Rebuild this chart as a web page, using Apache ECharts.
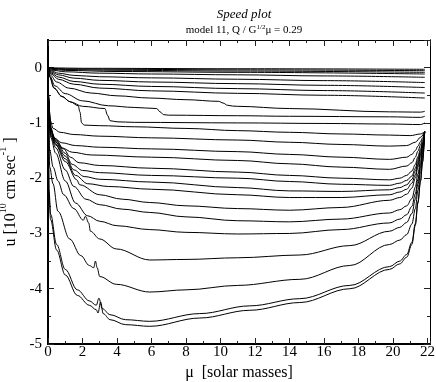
<!DOCTYPE html>
<html>
<head>
<meta charset="utf-8">
<script src="https://cdn.jsdelivr.net/npm/echarts@6/dist/echarts.min.js"></script>
<style>
  html, body { margin: 0; padding: 0; background: #fff; }
  #chart { width: 436px; height: 382px; }
</style>
</head>
<body>
<div id="chart"></div>
<script>
// tick labels
const xTicks = [0, 2, 4, 6, 8, 10, 12, 14, 16, 18, 20, 22]
const yTicks = [-5, -4, -3, -2, -1, 0]

// speed curves, [mu, u], from top to bottom
const u01 = [[0, 0], [0.3, -0.005], [2, -0.012], [11, -0.02], [21.85, -0.03]]
const u02 = [[0, 0], [0.2, -0.012], [1, -0.022], [4, -0.03], [11, -0.04], [21.85, -0.055]]
const u03 = [[0, 0], [0.2, -0.02], [1, -0.035], [4, -0.048], [11, -0.062], [21.85, -0.085]]
const u04 = [[0, 0], [0.2, -0.03], [1, -0.05], [4, -0.07], [11, -0.085], [21.85, -0.115]]
const u05 = [[0, 0], [0.2, -0.045], [1, -0.075], [3, -0.1], [6, -0.115], [11, -0.13], [16, -0.15], [21.85, -0.175]]
const u06 = [[0, 0], [0.2, -0.06], [0.6, -0.1], [1.5, -0.14], [3, -0.165], [6, -0.185], [11, -0.21], [16, -0.235], [21.85, -0.27]]
const u07 = [[0, 0], [0.2, -0.08], [0.6, -0.13], [1.5, -0.19], [3, -0.23], [6, -0.26], [11, -0.29], [16, -0.32], [21.85, -0.36]]
const u08 = [[0, 0], [0.2, -0.1], [0.6, -0.17], [1.5, -0.25], [3, -0.3], [6, -0.34], [11, -0.38], [16, -0.415], [21.85, -0.46]]
const u09 = [[0, 0], [0.2, -0.12], [0.6, -0.21], [1.5, -0.3], [3, -0.37], [6, -0.42], [11, -0.465], [16, -0.5], [21.85, -0.55]]
const s04 = [[0, 0], [0.15, -0.14], [0.5, -0.26], [1.2, -0.37], [2.5, -0.46], [4, -0.51], [5.9, -0.55], [8, -0.58], [9.9, -0.61], [10.15, -0.64], [10.4, -0.68], [10.7, -0.695], [11, -0.7], [14, -0.74], [19.8, -0.8], [21.6, -0.805], [21.85, -0.79]]
const s03 = [[0, 0], [0.12, -0.16], [0.4, -0.33], [1, -0.47], [2, -0.6], [3.5, -0.69], [5, -0.72], [6.3, -0.74], [6.5, -0.8], [6.7, -0.85], [7, -0.86], [11, -0.87], [14, -0.88], [19.8, -0.89], [21.6, -0.9], [21.85, -0.88]]
const s02 = [[0, 0], [0.1, -0.17], [0.35, -0.37], [0.8, -0.52], [1.3, -0.62], [2, -0.7], [3.3, -0.74], [3.45, -0.86], [3.6, -0.96], [4, -0.98], [5, -0.99], [11, -1.0], [16, -1.01], [19.8, -1.02], [21.6, -1.03], [21.85, -1.0]]
const s01 = [[0, 0], [0.1, -0.17], [0.35, -0.37], [0.8, -0.52], [1.3, -0.62], [1.75, -0.69], [1.85, -0.8], [1.95, -1.0], [2.1, -1.04], [3, -1.05], [5, -1.07], [8, -1.1], [11, -1.14], [14, -1.17], [17, -1.2], [19.8, -1.22], [21, -1.23], [21.6, -1.2], [21.84, -1.16]]
const l02 = [[0, 0], [0.04, -0.5], [0.12, -0.95], [0.3, -1.1], [0.7, -1.17], [1.5, -1.21], [3, -1.24], [6, -1.27], [11, -1.31], [14, -1.35], [17, -1.39], [19.8, -1.42], [20.8, -1.41], [21.3, -1.35], [21.6, -1.26], [21.84, -1.16]]
const l03 = [[0, 0], [0.04, -0.55], [0.14, -1.05], [0.35, -1.27], [0.8, -1.36], [1.6, -1.41], [3, -1.44], [6, -1.47], [11, -1.52], [14, -1.57], [17, -1.62], [19.8, -1.66], [20.8, -1.62], [21.1, -1.57], [21.3, -1.5], [21.45, -1.42], [21.6, -1.34], [21.72, -1.27], [21.84, -1.16]]
const l04 = [[0, 0], [0.04, -0.6], [0.15, -1.1], [0.4, -1.33], [0.8, -1.45], [1.4, -1.53], [2.5, -1.58], [6, -1.62], [11, -1.68], [14, -1.74], [17, -1.8], [19.8, -1.84], [20.8, -1.78], [21.1, -1.72], [21.3, -1.62], [21.45, -1.51], [21.6, -1.4], [21.72, -1.31], [21.84, -1.16]]
const l05 = [[0, 0], [0.04, -0.6], [0.15, -1.12], [0.45, -1.3], [0.9, -1.47], [1.3, -1.62], [1.8, -1.72], [3, -1.77], [6, -1.82], [11, -1.89], [14, -1.95], [17, -2.0], [19.8, -2.03], [20.4, -2.0], [20.8, -1.95], [21.1, -1.87], [21.3, -1.75], [21.45, -1.61], [21.6, -1.47], [21.72, -1.35], [21.84, -1.16]]
const l06 = [[0, 0], [0.04, -0.62], [0.15, -1.14], [0.45, -1.32], [1, -1.55], [1.4, -1.75], [2, -1.86], [3, -1.9], [6, -1.95], [11, -2.0], [14, -2.06], [17, -2.11], [19.8, -2.13], [20.4, -2.09], [20.8, -2.04], [21.1, -1.96], [21.3, -1.82], [21.45, -1.66], [21.6, -1.51], [21.72, -1.37], [21.84, -1.16]]
const l07 = [[0, 0], [0.04, -0.64], [0.15, -1.16], [0.45, -1.35], [1, -1.6], [1.5, -1.85], [2.1, -1.97], [3, -2.02], [6, -2.07], [11, -2.17], [14, -2.23], [17, -2.24], [19.8, -2.21], [20.4, -2.17], [20.8, -2.12], [21.1, -2.02], [21.3, -1.87], [21.45, -1.71], [21.6, -1.54], [21.72, -1.39], [21.84, -1.16]]
const l08 = [[0, 0], [0.04, -0.66], [0.15, -1.18], [0.45, -1.38], [1, -1.65], [1.6, -1.95], [2.3, -2.1], [3.5, -2.15], [6, -2.2], [11, -2.3], [14, -2.35], [17, -2.35], [19.8, -2.3], [20.4, -2.25], [20.8, -2.2], [21.1, -2.09], [21.3, -1.94], [21.45, -1.75], [21.6, -1.57], [21.72, -1.41], [21.84, -1.16]]
const l09 = [[0, 0], [0.04, -0.68], [0.15, -1.2], [0.45, -1.4], [1, -1.7], [1.67, -2.03], [1.84, -2.12], [3, -2.3], [4.3, -2.38], [5.9, -2.44], [8, -2.5], [11, -2.55], [14, -2.58], [17, -2.53], [19.8, -2.4], [20.4, -2.35], [20.8, -2.29], [21.1, -2.18], [21.3, -2.0], [21.45, -1.8], [21.6, -1.61], [21.72, -1.43], [21.84, -1.16]]
const l10 = [[0, 0], [0.04, -0.7], [0.15, -1.22], [0.45, -1.45], [1, -1.85], [1.5, -2.15], [2.2, -2.38], [3, -2.48], [4.3, -2.56], [5.9, -2.62], [8, -2.7], [11, -2.77], [14, -2.79], [17, -2.74], [19.8, -2.63], [20.4, -2.57], [20.8, -2.5], [21.1, -2.37], [21.3, -2.16], [21.45, -1.92], [21.6, -1.69], [21.72, -1.48], [21.84, -1.16]]
const l11 = [[0, 0], [0.04, -0.75], [0.15, -1.26], [0.45, -1.55], [1, -2.05], [1.6, -2.45], [2.3, -2.68], [3, -2.78], [4, -2.86], [5.9, -2.93], [8, -2.98], [11, -3.01], [14, -3.0], [17, -2.93], [19.8, -2.81], [20.4, -2.74], [20.8, -2.66], [21.1, -2.51], [21.3, -2.28], [21.45, -2.02], [21.6, -1.75], [21.72, -1.52], [21.84, -1.16]]
const l12 = [[0, 0], [0.03, -0.9], [0.1, -1.5], [0.3, -1.8], [0.58, -2.05], [0.91, -2.3], [1.5, -2.55], [2.05, -2.76], [2.17, -2.69], [2.36, -2.81], [2.46, -2.96], [3, -3.1], [3.96, -3.28], [5.9, -3.48], [8, -3.47], [11, -3.44], [14.6, -3.39], [17.5, -3.22], [19.8, -2.96], [20.4, -2.89], [20.8, -2.8], [21.1, -2.64], [21.3, -2.38], [21.45, -2.1], [21.6, -1.81], [21.72, -1.56], [21.84, -1.16]]
const l13 = [[0, 0], [0.03, -1.0], [0.1, -1.8], [0.29, -2.1], [0.58, -2.6], [1.26, -3.1], [1.9, -3.4], [2.4, -3.58], [2.65, -3.62], [2.75, -3.5], [2.85, -3.62], [3.0, -3.78], [3.96, -3.92], [5.9, -4.06], [8, -4.02], [11, -3.94], [14.6, -3.83], [17.5, -3.58], [19.8, -3.2], [20.4, -3.12], [20.8, -3.02], [21.1, -2.83], [21.3, -2.55], [21.45, -2.22], [21.6, -1.89], [21.72, -1.61], [21.84, -1.16]]
const b02 = [[0, 0], [0.02, -1.1], [0.06, -2.2], [0.15, -2.65], [0.5, -3.2], [1, -3.65], [1.7, -4.02], [2.4, -4.22], [2.8, -4.3], [2.95, -4.17], [3.15, -4.36], [3.6, -4.47], [4.5, -4.56], [5.9, -4.59], [8.8, -4.45], [11.7, -4.31], [14.6, -4.18], [17.5, -3.94], [19.8, -3.6], [20.4, -3.5], [20.8, -3.38], [21.1, -3.16], [21.3, -2.82], [21.45, -2.43], [21.6, -2.04], [21.72, -1.7], [21.84, -1.16]]
const b01 = [[0, 0], [0.02, -1.2], [0.06, -2.3], [0.15, -2.75], [0.5, -3.3], [1, -3.75], [1.7, -4.12], [2.4, -4.3], [2.8, -4.38], [2.9, -4.44], [3.05, -4.24], [3.2, -4.45], [3.6, -4.56], [4.5, -4.65], [5.9, -4.68], [8.8, -4.53], [11.7, -4.39], [14.6, -4.25], [17.5, -4.0], [19.8, -3.65], [20.4, -3.55], [20.8, -3.43], [21.1, -3.2], [21.3, -2.85], [21.45, -2.45], [21.6, -2.06], [21.72, -1.71], [21.84, -1.16]]

const curves = [u01, u02, u03, u04, u05, u06, u07, u08, u09, s04, s03, s02, s01,
  l02, l03, l04, l05, l06, l07, l08, l09, l10, l11, l12, l13, b02, b01]

const serif = 'Liberation Serif'
const chart = echarts.init(document.getElementById('chart'), null, { renderer: 'canvas' })

// one axis for long ticks and labels, one for the short ticks in between
function xAxisDef(position, step, tickLen, withLabels, lineWidth) {
  return {
    type: 'value', position: position, min: 0, max: 22.15, interval: step,
    axisLine: { show: true, onZero: false, lineStyle: { color: '#000', width: lineWidth } },
    axisTick: { show: true, inside: true, length: tickLen, lineStyle: { color: '#222', width: 1 } },
    axisLabel: {
      show: withLabels, showMaxLabel: false, margin: 1,
      color: '#000', fontFamily: serif, fontSize: 15,
      formatter: (v) => (xTicks.indexOf(v) >= 0 ? String(v) : ''),
    },
    splitLine: { show: false },
    name: withLabels ? 'μ  [solar masses]' : '',
    nameLocation: 'middle', nameGap: 20,
    nameTextStyle: { color: '#000', fontFamily: serif, fontSize: 16 },
  }
}

function yAxisDef(position, step, tickLen, withLabels, lineWidth) {
  return {
    type: 'value', position: position, min: -5, max: 0.5, interval: step,
    axisLine: { show: true, onZero: false, lineStyle: { color: '#000', width: lineWidth } },
    axisTick: { show: true, inside: true, length: tickLen, lineStyle: { color: '#222', width: 1 } },
    axisLabel: {
      show: withLabels, showMaxLabel: false, margin: 6,
      color: '#000', fontFamily: serif, fontSize: 15,
      formatter: (v) => (yTicks.indexOf(v) >= 0 ? String(v) : ''),
    },
    splitLine: { show: false },
    name: withLabels ? '{t|u [10}{s|10}{t| cm sec}{s|-1}{t| ]}' : '',
    nameLocation: 'middle', nameRotate: 90, nameGap: 26,
    nameTextStyle: {
      color: '#000', fontFamily: serif, fontSize: 16,
      rich: {
        t: { fontFamily: serif, fontSize: 16, lineHeight: 20, verticalAlign: 'bottom' },
        s: { fontFamily: serif, fontSize: 10, lineHeight: 20, verticalAlign: 'top' },
      },
    },
  }
}

const option = {
  animation: false,
  backgroundColor: '#fff',
  title: {
    text: 'Speed plot',
    subtext: 'model 11, Q / G{s|1/2}μ = 0.29',
    left: 239, top: 3, textAlign: 'center', itemGap: 3,
    textStyle: { fontFamily: serif, fontStyle: 'italic', fontWeight: 'normal', fontSize: 13, color: '#000' },
    subtextStyle: {
      fontFamily: serif, fontSize: 11, color: '#000',
      rich: { s: { fontFamily: serif, fontSize: 7, verticalAlign: 'top', lineHeight: 12 } },
    },
  },
  grid: { left: 48, right: 6, top: 40, bottom: 38, containLabel: false, outerBoundsMode: 'none' },
  xAxis: [
    xAxisDef('bottom', 2, 6, true, 2),
    xAxisDef('bottom', 1, 3, false, 2),
    xAxisDef('top', 2, 6, false, 1),
    xAxisDef('top', 1, 3, false, 1),
  ],
  yAxis: [
    yAxisDef('left', 1, 6, true, 2),
    yAxisDef('left', 0.5, 3, false, 2),
    yAxisDef('right', 1, 6, false, 1),
    yAxisDef('right', 0.5, 3, false, 1),
  ],
  series: curves.map((c) => ({
    type: 'line',
    data: c,
    xAxisIndex: 0,
    yAxisIndex: 0,
    showSymbol: false,
    symbol: 'none',
    smooth: 0.35,
    smoothMonotone: 'x',
    silent: true,
    clip: true,
    lineStyle: { color: '#000', width: 1 },
  })),
}

chart.setOption(option)
</script>
</body>
</html>
